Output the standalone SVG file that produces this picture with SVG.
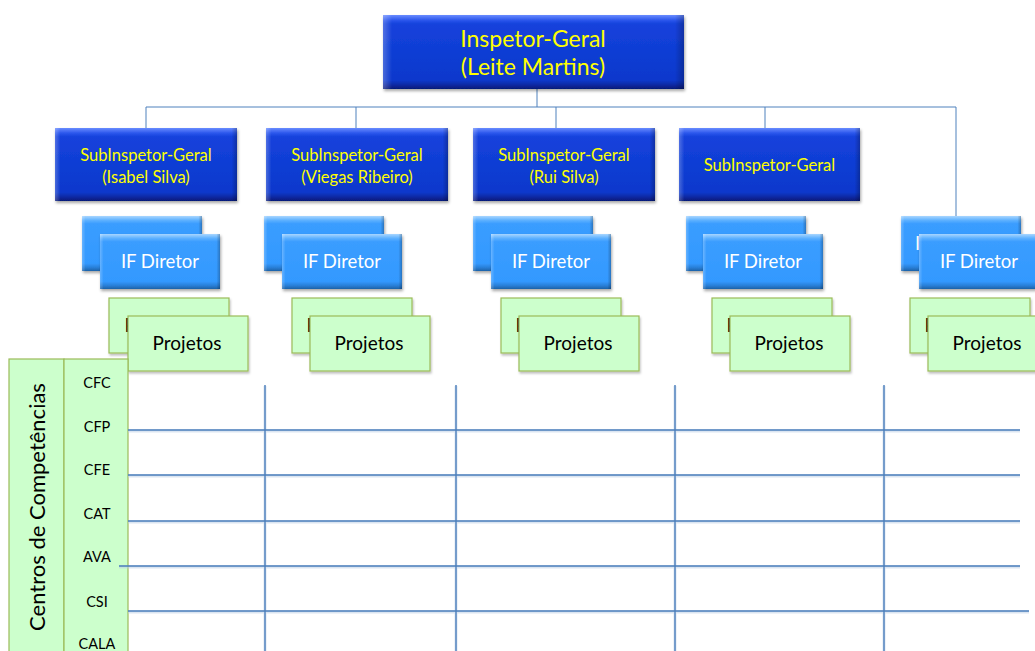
<svg xmlns="http://www.w3.org/2000/svg" width="1035" height="651" viewBox="0 0 1035 651">
<defs>
<linearGradient id="gDark" x1="0" y1="0" x2="0" y2="1">
<stop offset="0" stop-color="#6a8cff"/><stop offset="0.07" stop-color="#2b56ec"/><stop offset="0.12" stop-color="#1442dc"/><stop offset="0.88" stop-color="#0c38cc"/><stop offset="0.94" stop-color="#0a2aa6"/><stop offset="1" stop-color="#061a78"/>
</linearGradient>
<linearGradient id="gLight" x1="0" y1="0" x2="0" y2="1">
<stop offset="0" stop-color="#a8d6ff"/><stop offset="0.08" stop-color="#5cb0ff"/><stop offset="0.14" stop-color="#3a9dff"/><stop offset="0.86" stop-color="#3399ff"/><stop offset="0.93" stop-color="#2a82dc"/><stop offset="1" stop-color="#1d62a8"/>
</linearGradient>
<linearGradient id="gSide" x1="0" y1="0" x2="1" y2="0">
<stop offset="0" stop-color="#ffffff" stop-opacity="0.25"/><stop offset="0.03" stop-color="#ffffff" stop-opacity="0"/><stop offset="0.97" stop-color="#000000" stop-opacity="0"/><stop offset="1" stop-color="#000000" stop-opacity="0.25"/>
</linearGradient>
<filter id="sh" x="-10%" y="-10%" width="125%" height="135%">
<feDropShadow dx="1" dy="2" stdDeviation="1.5" flood-color="#000" flood-opacity="0.35"/>
</filter>
<filter id="shg" x="-10%" y="-10%" width="125%" height="135%">
<feDropShadow dx="1" dy="2" stdDeviation="1.2" flood-color="#000" flood-opacity="0.25"/>
</filter>
</defs>
<style>
.dark{fill:url(#gDark);filter:url(#sh)}
.light{fill:url(#gLight);filter:url(#sh)}
.side{fill:url(#gSide)}
.green{fill:#ccffcc;stroke:#9bbb59;stroke-width:1.2;filter:url(#shg)}
.panel{fill:#ccffcc;stroke:#9bbb59;stroke-width:1.2}
.yt{font-family:Lato,"Liberation Sans",sans-serif;fill:#ffff00;text-anchor:middle}
.wt{font-family:Lato,"Liberation Sans",sans-serif;fill:#ffffff;font-size:18.5px;text-anchor:middle}
.bt{font-family:Lato,"Liberation Sans",sans-serif;fill:#000000;font-size:19px;text-anchor:middle}
.lt{font-family:Lato,"Liberation Sans",sans-serif;fill:#000000;font-size:14.5px;text-anchor:middle}
.conn{stroke:#4f81bd;stroke-width:1;fill:none}
.grid{stroke:#4a7ebb;stroke-width:1.4;fill:none}
.glow{stroke:#b8cce4;stroke-width:3;fill:none}
</style>

<g id="connectors">
<path class="conn" d="M537 89V107M146 107H956M146 107V128M356 107V128M556 107V128M765 107V128M956 107V216"/>
</g>

<g id="inspetor-geral">
<rect class="dark" x="383" y="15" width="301" height="74"/>
<rect class="side" x="383" y="15" width="301" height="74"/>
<text class="yt" font-size="23" x="533" y="47">Inspetor-Geral</text>
<text class="yt" font-size="23" x="533" y="75">(Leite Martins)</text>
</g>

<g id="sub1">
<rect class="dark" x="55" y="128" width="182" height="73"/>
<rect class="side" x="55" y="128" width="182" height="73"/>
<text class="yt" font-size="16.5" x="146" y="161">SubInspetor-Geral</text>
<text class="yt" font-size="16.5" x="146" y="183">(Isabel Silva)</text>
</g>
<g id="sub2">
<rect class="dark" x="266" y="128" width="182" height="73"/>
<rect class="side" x="266" y="128" width="182" height="73"/>
<text class="yt" font-size="16.5" x="357" y="161">SubInspetor-Geral</text>
<text class="yt" font-size="16.5" x="357" y="183">(Viegas Ribeiro)</text>
</g>
<g id="sub3">
<rect class="dark" x="473" y="128" width="182" height="73"/>
<rect class="side" x="473" y="128" width="182" height="73"/>
<text class="yt" font-size="16.5" x="564" y="161">SubInspetor-Geral</text>
<text class="yt" font-size="16.5" x="564" y="183">(Rui Silva)</text>
</g>
<g id="sub4">
<rect class="dark" x="679" y="128" width="181" height="73"/>
<rect class="side" x="679" y="128" width="181" height="73"/>
<text class="yt" font-size="16.5" x="769.5" y="171">SubInspetor-Geral</text>
</g>

<g id="director1">
<rect class="light" x="82" y="216" width="120" height="55"/>
<rect class="side" x="82" y="216" width="120" height="55"/>
<rect class="light" x="100" y="234" width="120" height="55"/>
<rect class="side" x="100" y="234" width="120" height="55"/>
<text class="wt" x="160" y="268">IF Diretor</text>
</g>
<g id="director2">
<rect class="light" x="264" y="216" width="120" height="55"/>
<rect class="side" x="264" y="216" width="120" height="55"/>
<rect class="light" x="282" y="234" width="120" height="55"/>
<rect class="side" x="282" y="234" width="120" height="55"/>
<text class="wt" x="342" y="268">IF Diretor</text>
</g>
<g id="director3">
<rect class="light" x="473" y="216" width="120" height="55"/>
<rect class="side" x="473" y="216" width="120" height="55"/>
<rect class="light" x="491" y="234" width="120" height="55"/>
<rect class="side" x="491" y="234" width="120" height="55"/>
<text class="wt" x="551" y="268">IF Diretor</text>
</g>
<g id="director4">
<rect class="light" x="686" y="216" width="120" height="55"/>
<rect class="side" x="686" y="216" width="120" height="55"/>
<rect class="light" x="703" y="234" width="120" height="55"/>
<rect class="side" x="703" y="234" width="120" height="55"/>
<text class="wt" x="763" y="268">IF Diretor</text>
</g>
<g id="director5">
<rect class="light" x="901" y="216" width="120" height="55"/>
<rect class="side" x="901" y="216" width="120" height="55"/>
<text class="wt" x="915" y="250" style="text-anchor:start">IF</text>
<rect class="light" x="919" y="234" width="120" height="55"/>
<rect class="side" x="919" y="234" width="120" height="55"/>
<text class="wt" x="979" y="268">IF Diretor</text>
</g>

<g id="projetos1">
<rect class="green" x="109" y="298" width="120" height="55"/>
<text class="bt" x="124.5" y="332" style="text-anchor:start">P</text>
<rect class="green" x="128" y="316" width="120" height="55"/>
<text class="bt" x="187" y="350">Projetos</text>
</g>
<g id="projetos2">
<rect class="green" x="292" y="298" width="120" height="55"/>
<text class="bt" x="306.5" y="332" style="text-anchor:start">P</text>
<rect class="green" x="310" y="316" width="120" height="55"/>
<text class="bt" x="369" y="350">Projetos</text>
</g>
<g id="projetos3">
<rect class="green" x="501" y="298" width="120" height="55"/>
<text class="bt" x="515.5" y="332" style="text-anchor:start">P</text>
<rect class="green" x="519" y="316" width="120" height="55"/>
<text class="bt" x="578" y="350">Projetos</text>
</g>
<g id="projetos4">
<rect class="green" x="712" y="298" width="120" height="55"/>
<text class="bt" x="726.5" y="332" style="text-anchor:start">P</text>
<rect class="green" x="730" y="316" width="120" height="55"/>
<text class="bt" x="789" y="350">Projetos</text>
</g>
<g id="projetos5">
<rect class="green" x="910" y="298" width="120" height="55"/>
<text class="bt" x="924.5" y="332" style="text-anchor:start">P</text>
<rect class="green" x="928" y="316" width="120" height="55"/>
<text class="bt" x="987" y="350">Projetos</text>
</g>

<g id="centros">
<rect class="panel" x="9" y="359" width="55" height="300"/>
<text font-family="Lato,'Liberation Sans',sans-serif" font-size="22" fill="#000" text-anchor="middle" transform="translate(45 507) rotate(-90)">Centros de Competências</text>
</g>
<g id="centros-lista">
<rect class="panel" x="64" y="359" width="64" height="300"/>
<text class="lt" x="97" y="388">CFC</text>
<text class="lt" x="97" y="432">CFP</text>
<text class="lt" x="97" y="475">CFE</text>
<text class="lt" x="97" y="519">CAT</text>
<text class="lt" x="97" y="562">AVA</text>
<text class="lt" x="97" y="607">CSI</text>
<text class="lt" x="97" y="649">CALA</text>
</g>

<g id="grid">
<path class="glow" opacity="0.5" d="M265 386V651M456 386V651M675 386V651M884 386V651M128 431H1020M128 476H1020M128 522H1020M119 567H1020M128 612H1029"/>
<path class="grid" d="M265 385V651M456 385V651M675 385V651M884 385V651M128 430H1020M128 475H1020M128 521H1020M119 566H1020M128 611H1029"/>
</g>
</svg>
